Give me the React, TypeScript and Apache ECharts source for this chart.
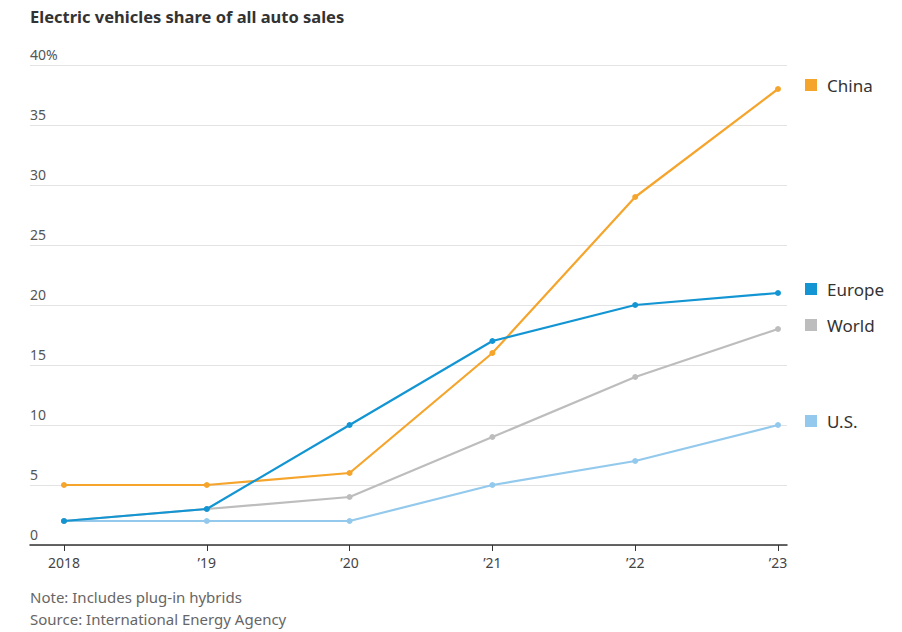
import React, { useEffect, useRef } from "react";
import * as echarts from "echarts";

const years = [2018, 2019, 2020, 2021, 2022, 2023];
const china = [5, 5, 6, 16, 29, 38];
const europe = [2, 3, 10, 17, 20, 21];
const world = [2, 3, 4, 9, 14, 18];
const us = [2, 2, 2, 5, 7, 10];
const yTicks = [0, 5, 10, 15, 20, 25, 30, 35, 40];

const FONT = "'Noto Sans', 'Open Sans', sans-serif";

export default function App() {
  const ref = useRef<HTMLDivElement>(null);
  useEffect(() => {
    if (!ref.current) return;
    const chart = echarts.init(ref.current, undefined, { renderer: "svg" });
    const mk = (name: string, vals: number[], color: string, z: number) => ({
      name,
      type: "line",
      z,
      data: years.map((y, i) => [y, vals[i]]),
      symbol: "circle",
      symbolSize: 6,
      lineStyle: { color, width: 2.2 },
      itemStyle: { color },
      endLabel: {
        show: true,
        offset: [19, -4],
        formatter: () => `{sq|}{n|${name}}`,
        rich: {
          sq: { width: 12, height: 12, backgroundColor: color },
          n: { fontSize: 17, color: "#333", fontFamily: FONT, padding: [0, 0, 0, 10] },
        },
      },
    });
    chart.setOption({
      animation: false,
      backgroundColor: "#fff",
      title: [
        {
          text: "Electric vehicles share of all auto sales",
          left: 30,
          top: 8,
          padding: 0,
          textStyle: { fontSize: 16.5, fontWeight: "bold", color: "#333", fontFamily: FONT },
        },
        {
          text: "Note: Includes plug-in hybrids\nSource: International Energy Agency",
          left: 30,
          top: 586,
          padding: 0,
          textStyle: { fontSize: 15, fontWeight: "normal", color: "#666", fontFamily: FONT, lineHeight: 22 },
        },
      ],
      grid: { left: 30, right: 115, top: 65, bottom: 87, containLabel: false },
      xAxis: {
        type: "value",
        min: 2017.762,
        max: 2023.063,
        splitLine: { show: false },
        axisLine: { show: true, onZero: false, lineStyle: { color: "#333", width: 1.5 } },
        axisTick: { show: true, customValues: years, length: 6, lineStyle: { color: "#333" } },
        axisLabel: {
          customValues: years,
          margin: 10,
          fontSize: 14,
          color: "#444",
          fontFamily: FONT,
          formatter: (v: number) => (v === 2018 ? "2018" : "\u2019" + String(v).slice(2)),
        },
      },
      yAxis: {
        type: "value",
        min: 0,
        max: 40,
        interval: 5,
        axisLine: { show: false },
        axisTick: { show: false },
        splitLine: { lineStyle: { color: "#e3e3e3", width: 1 } },
        axisLabel: {
          inside: true,
          margin: 0,
          verticalAlign: "bottom",
          padding: [0, 0, 4, 0],
          fontSize: 14,
          color: "#555",
          fontFamily: FONT,
          formatter: (v: number) => (yTicks.includes(v) ? (v === 40 ? "40%" : String(v)) : ""),
        },
      },
      series: [
        mk("U.S.", us, "#93c9ec", 2),
        mk("World", world, "#bdbdbd", 3),
        mk("China", china, "#f5a42c", 4),
        mk("Europe", europe, "#1295d2", 5),
      ],
    });
    return () => chart.dispose();
  }, []);
  return <div ref={ref} style={{ width: 902, height: 632, position: "absolute", left: 0, top: 0 }} />;
}
